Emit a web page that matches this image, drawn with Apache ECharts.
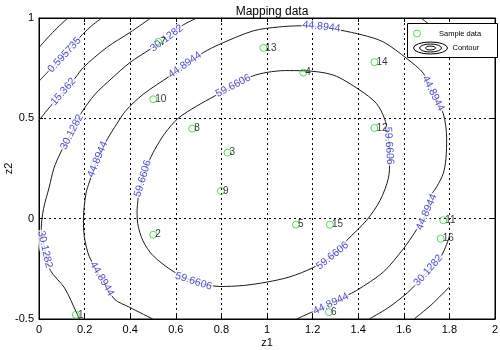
<!DOCTYPE html>
<html>
<head>
<meta charset="utf-8">
<script src="https://cdn.jsdelivr.net/npm/echarts@6/dist/echarts.min.js"></script>
<style>
  html, body { margin: 0; padding: 0; background: #fff; }
  #chart { width: 500px; height: 350px; }
</style>
</head>
<body>
<div id="chart"></div>
<script>
// Axis ranges
const xAxisRange = [0, 2];
const yAxisRange = [-0.5, 1];
const xStep = 0.2;
const yStep = 0.5;

// Sample points (z1, z2) with their ids
const sampleIds = ['1','2','3','4','5','6','7','8','9','10','11','12','13','14','15','16'];
const sampleZ1 = [0.162, 0.501, 0.827, 1.159, 1.127, 1.272, 0.523, 0.672, 0.798, 0.501, 1.773, 1.471, 0.984, 1.471, 1.276, 1.762];
const sampleZ2 = [-0.479, -0.08, 0.329, 0.728, -0.03, -0.466, 0.881, 0.449, 0.138, 0.595, -0.008, 0.452, 0.851, 0.78, -0.03, -0.1];

// Contour paths, one list of [z1, z2] vertices per visible piece
const arcOuter = [[0, 0.853], [0.06, 0.928], [0.126, 1.0]];
const arc0595735 = [[0, 0.685], [0.05, 0.745], [0.112, 0.816], [0.18, 0.905], [0.225, 0.955], [0.275, 1.0]];
const arc15362Top = [[0, 0.49], [0.05, 0.56], [0.107, 0.633], [0.158, 0.70], [0.194, 0.753], [0.297, 0.853], [0.399, 0.928], [0.49, 1.0]];
const arc15362Bottom = [[1.645, -0.5], [1.72, -0.43], [1.8, -0.34]];
const arc301282Left = [[0.692, 1.0], [0.626, 0.961], [0.56, 0.899], [0.487, 0.844], [0.399, 0.778], [0.32, 0.70], [0.246, 0.62], [0.184, 0.524], [0.144, 0.432], [0.096, 0.332], [0.065, 0.25], [0.045, 0.158], [0.02, 0.05], [0.01, -0.05], [0.026, -0.153], [0.05, -0.258], [0.112, -0.345], [0.165, -0.47], [0.177, -0.5]];
const arc301282TopRight = [[1.675, 1.0], [1.715, 0.965], [1.8, 0.885]];
const arc301282BottomRight = [[1.8, -0.09], [1.766, -0.183], [1.707, -0.258], [1.649, -0.333], [1.605, -0.38], [1.53, -0.445], [1.448, -0.5]];
const arc448944 = [[0.499, -0.5], [0.396, -0.441], [0.33, -0.4], [0.276, -0.30], [0.221, -0.19], [0.199, -0.092], [0.195, 0.0], [0.206, 0.125], [0.221, 0.183], [0.257, 0.296], [0.301, 0.399], [0.34, 0.47], [0.382, 0.54], [0.457, 0.62], [0.575, 0.712], [0.64, 0.766], [0.721, 0.828], [0.794, 0.87], [0.94, 0.936], [1.05, 0.955], [1.145, 0.961], [1.239, 0.957], [1.32, 0.94], [1.42, 0.915], [1.51, 0.881], [1.613, 0.798], [1.686, 0.724], [1.729, 0.624], [1.773, 0.524], [1.788, 0.4], [1.785, 0.3], [1.773, 0.225], [1.745, 0.16], [1.715, 0.108], [1.70, 0.033], [1.649, -0.067], [1.598, -0.15], [1.51, -0.266], [1.393, -0.358], [1.35, -0.383], [1.28, -0.424], [1.196, -0.466], [1.13, -0.5]];
const loop596606 = [[0.43, 0.04], [0.437, 0.12], [0.455, 0.2], [0.478, 0.275], [0.508, 0.345], [0.552, 0.425], [0.61, 0.5], [0.69, 0.56], [0.772, 0.612], [0.852, 0.662], [0.935, 0.71], [1.0, 0.729], [1.08, 0.738], [1.16, 0.737], [1.29, 0.716], [1.408, 0.64], [1.48, 0.574], [1.515, 0.50], [1.53, 0.43], [1.535, 0.363], [1.538, 0.29], [1.532, 0.2], [1.496, 0.091], [1.437, -0.008], [1.35, -0.108], [1.287, -0.185], [1.2, -0.245], [1.1, -0.29], [1.0, -0.316], [0.896, -0.333], [0.794, -0.338], [0.678, -0.312], [0.593, -0.266], [0.499, -0.183], [0.455, -0.108], [0.433, -0.025], [0.43, 0.04]];

const contourPieces = [arcOuter, arc0595735, arc15362Top, arc15362Bottom, arc301282Left, arc301282TopRight, arc301282BottomRight, arc448944, loop596606];

// Inline level labels: text and the vertex they sit on
const labelTexts = ['0.595735', '15.362', '30.1282', '30.1282', '30.1282', '30.1282', '44.8944', '44.8944', '44.8944', '44.8944', '44.8944', '44.8944', '44.8944', '59.6606', '59.6606', '59.6606', '59.6606', '59.6606'];
const labelZ1 = [0.112, 0.107, 0.56, 0.144, 0.026, 1.707, 0.64, 0.257, 0.276, 1.239, 1.729, 1.70, 1.28, 0.455, 0.852, 1.535, 1.287, 0.678];
const labelZ2 = [0.816, 0.633, 0.899, 0.432, -0.153, -0.258, 0.766, 0.296, -0.30, 0.957, 0.624, 0.033, -0.424, 0.2, 0.662, 0.363, -0.185, -0.312];

const FONT = '"Liberation Sans", Arial, Helvetica, sans-serif';
const GREEN = '#2ecc2e';
const LINE = '#1a1a1a';
const LABEL_BLUE = '#1a1ac4';

const chart = echarts.init(document.getElementById('chart'), null, { renderer: 'canvas' });

const plainAxis = {
  axisLine: { show: true, onZero: false, lineStyle: { color: '#000', width: 1 } },
  axisTick: { show: true, inside: true, length: 4, lineStyle: { color: '#000' } },
};

function contourSeries() {
  return contourPieces.map(piece => ({
    name: 'Contour',
    type: 'line',
    data: piece,
    smooth: 0.3,
    showSymbol: false,
    symbol: 'none',
    clip: true,
    z: 2,
    silent: true,
    lineStyle: { color: LINE, width: 1 },
    itemStyle: { color: LINE }
  }));
}

function labelSeries(rotations) {
  return {
    name: 'levels',
    type: 'scatter',
    symbol: 'circle',
    symbolSize: 1,
    z: 3,
    silent: true,
    itemStyle: { color: 'rgba(0,0,0,0)' },
    data: labelTexts.map((t, i) => ({
      value: [labelZ1[i], labelZ2[i]],
      label: { rotate: rotations ? rotations[i] : 0 }
    })),
    label: {
      show: true,
      position: 'inside',
      formatter: p => labelTexts[p.dataIndex],
      color: LABEL_BLUE,
      fontFamily: FONT,
      fontSize: 10.5,
      backgroundColor: '#fff',
      padding: [0, 1]
    }
  };
}

const option = {
  animation: false,
  backgroundColor: '#fff',
  title: {
    text: 'Mapping data',
    left: 267,
    textAlign: 'center',
    top: 1,
    textStyle: { fontFamily: FONT, fontSize: 12, fontWeight: 'normal', color: '#000' }
  },
  grid: {
    left: 39, right: 5, top: 18, bottom: 31,
    containLabel: false, outerBoundsMode: 'none',
    show: true, borderColor: '#000', borderWidth: 1, backgroundColor: '#fff'
  },
  xAxis: [
    Object.assign({
      type: 'value', position: 'bottom',
      min: xAxisRange[0], max: xAxisRange[1], interval: xStep,
      name: 'z1', nameLocation: 'middle', nameGap: 18, nameMoveOverlap: false,
      nameTextStyle: { fontFamily: FONT, fontSize: 11, color: '#000' },
      axisLabel: { fontFamily: FONT, fontSize: 11, color: '#000', margin: 5 },
      splitLine: { show: true, lineStyle: { color: '#000', width: 1, type: [2, 3] } }
    }, plainAxis),
    Object.assign({
      type: 'value', position: 'top',
      min: xAxisRange[0], max: xAxisRange[1], interval: xStep,
      axisLabel: { show: false }, splitLine: { show: false }
    }, plainAxis)
  ],
  yAxis: [
    Object.assign({
      type: 'value', position: 'left',
      min: yAxisRange[0], max: yAxisRange[1], interval: yStep,
      name: 'z2', nameLocation: 'middle', nameGap: 25, nameMoveOverlap: false,
      nameTextStyle: { fontFamily: FONT, fontSize: 11, color: '#000' },
      axisLabel: { fontFamily: FONT, fontSize: 11, color: '#000', margin: 5 },
      splitLine: { show: true, lineStyle: { color: '#000', width: 1, type: [2, 3] } }
    }, plainAxis),
    Object.assign({
      type: 'value', position: 'right',
      min: yAxisRange[0], max: yAxisRange[1], interval: yStep,
      axisLabel: { show: false }, splitLine: { show: false }
    }, plainAxis)
  ],
  graphic: [{
    type: 'rect',
    left: 407, top: 23,
    shape: { width: 90, height: 34 },
    style: { fill: '#fff', stroke: '#000', lineWidth: 1 },
    z: 10
  }],
  legend: [
    {
      left: 413, top: 29.5, padding: 0,
      itemWidth: 34, itemHeight: 7,
      selectedMode: false,
      textStyle: { fontFamily: FONT, fontSize: 7.5, color: '#000' },
      data: [{ name: 'Sample data', icon: 'circle', itemStyle: { color: 'rgba(0,0,0,0)', borderColor: GREEN, borderWidth: 1 } }],
      z: 11
    },
    {
      left: 413, top: 41.5, padding: 0,
      itemWidth: 34, itemHeight: 12,
      selectedMode: false,
      textStyle: { fontFamily: FONT, fontSize: 7.5, color: '#000' },
      data: [{
        name: 'Contour',
        icon: 'path://M0,6A17,6,0,1,0,34,6A17,6,0,1,0,0,6Z M6,6A11,4,0,1,0,28,6A11,4,0,1,0,6,6Z M12,6A5,2,0,1,0,22,6A5,2,0,1,0,12,6Z',
        itemStyle: { color: 'rgba(0,0,0,0)', borderColor: '#000', borderWidth: 1 }
      }],
      z: 11
    }
  ],
  series: [
    ...contourSeries(),
    labelSeries(null),
    {
      name: 'Sample data',
      type: 'scatter',
      z: 4,
      symbol: 'circle',
      symbolSize: 7,
      itemStyle: { color: 'rgba(0,0,0,0)', borderColor: GREEN, borderWidth: 1 },
      data: sampleZ1.map((v, i) => [v, sampleZ2[i]]),
      label: {
        show: true,
        position: 'right',
        distance: -2,
        formatter: p => sampleIds[p.dataIndex],
        color: '#000',
        fontFamily: FONT,
        fontSize: 10
      }
    }
  ]
};

chart.setOption(option);

// Turn each level label along its contour using the on-screen tangent
function tangentAngle(x, y) {
  let best = null, bestD = Infinity;
  contourPieces.forEach(piece => {
    piece.forEach((pt, idx) => {
      const d = (pt[0] - x) ** 2 + (pt[1] - y) ** 2;
      if (d < bestD) { bestD = d; best = { piece, idx }; }
    });
  });
  const p = best.piece;
  const a = p[Math.max(0, best.idx - 1)];
  const b = p[Math.min(p.length - 1, best.idx + 1)];
  const pa = chart.convertToPixel({ gridIndex: 0 }, a);
  const pb = chart.convertToPixel({ gridIndex: 0 }, b);
  let ang = Math.atan2(-(pb[1] - pa[1]), pb[0] - pa[0]) * 180 / Math.PI;
  if (ang > 90) ang -= 180;
  if (ang <= -90) ang += 180;
  return ang;
}

const rotations = labelTexts.map((t, i) => tangentAngle(labelZ1[i], labelZ2[i]));
const seriesList = option.series.slice();
seriesList[contourPieces.length] = labelSeries(rotations);
chart.setOption({ series: seriesList });
</script>
</body>
</html>
